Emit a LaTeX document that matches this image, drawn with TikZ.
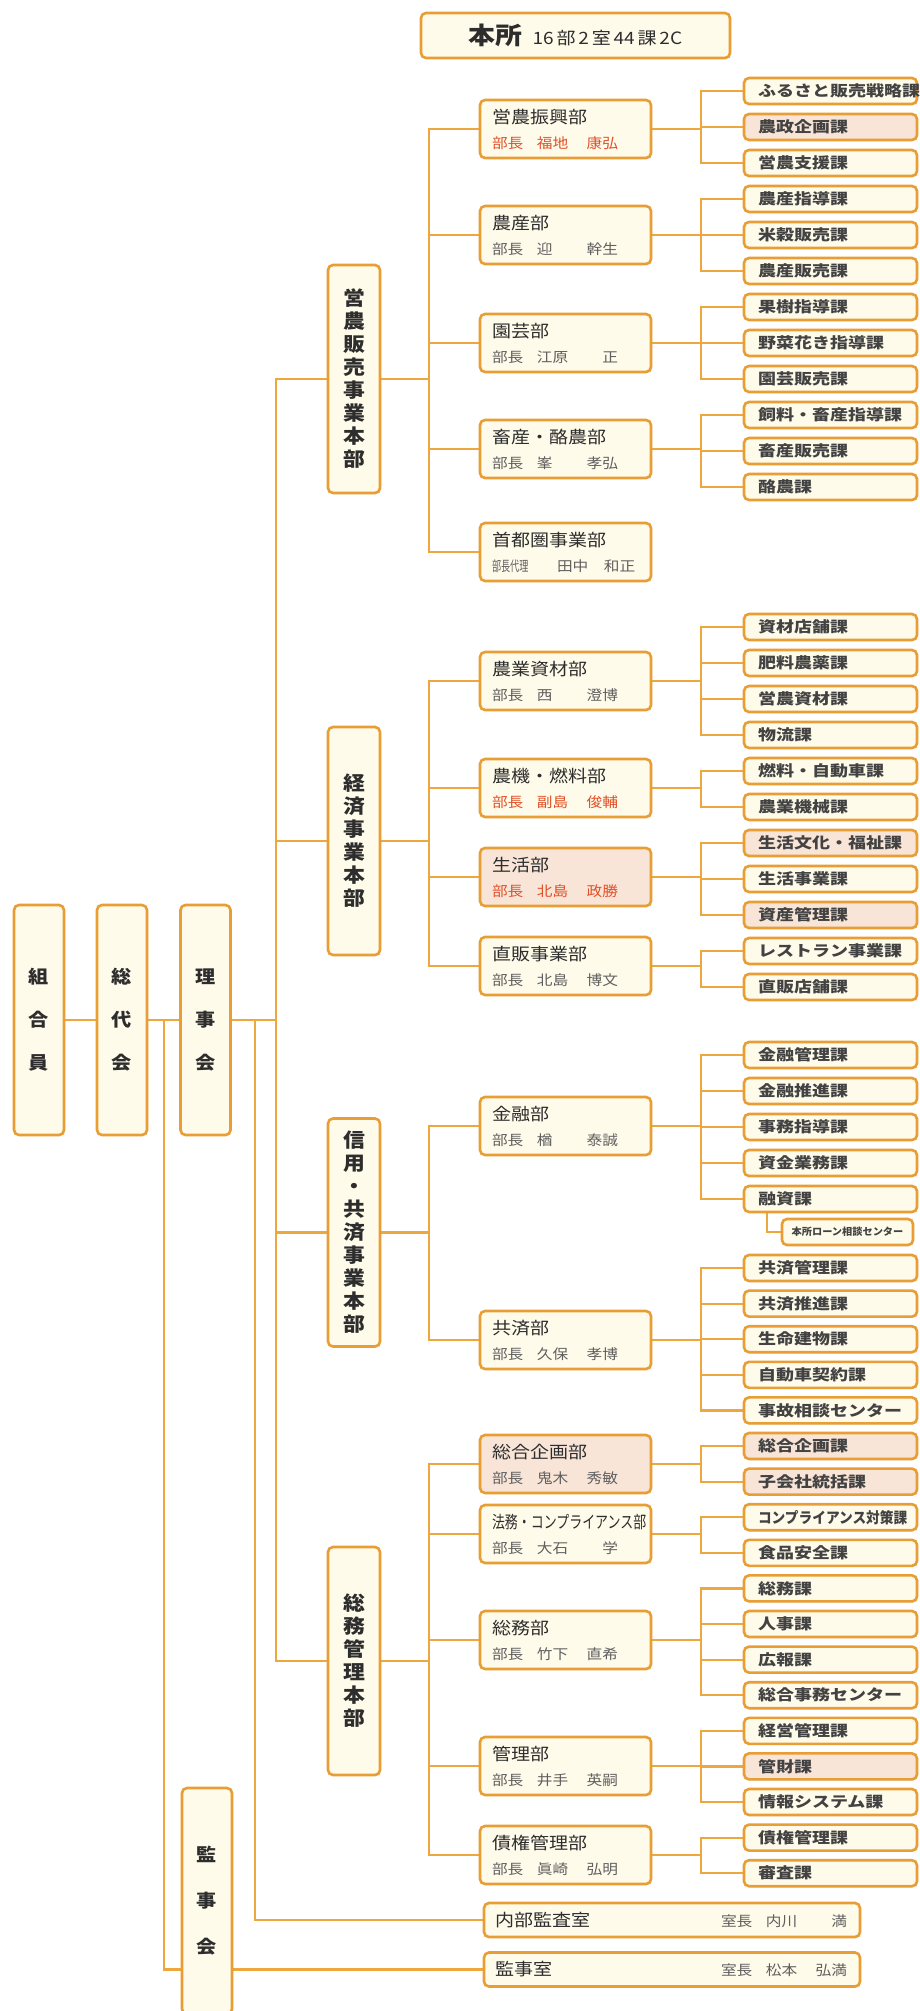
\documentclass[tikz,border=0pt]{standalone}
\usepackage{fontspec}
\usepackage{graphicx}
\setmainfont{Noto Sans CJK JP}[FakeStretch=1.12]
\newfontfamily\kafont{Noto Sans CJK JP}[FakeStretch=1.2]
\usetikzlibrary{backgrounds,shadows}

\definecolor{lineor}{RGB}{238,166,62}
\definecolor{boxor}{RGB}{232,158,52}
\definecolor{boxfill}{RGB}{255,251,234}
\definecolor{pinkfill}{RGB}{248,229,215}
\definecolor{namered}{RGB}{224,80,40}
\definecolor{namegray}{RGB}{95,95,95}
\definecolor{ink}{RGB}{45,45,45}

\newcommand\nm[3]{\makebox[45pt][l]{#1}\makebox[45pt][l]{#2}\makebox[36pt][r]{#3}}
\newcommand\gn[3]{\textcolor{namegray}{\nm{#1}{#2}{#3}}}
\newcommand\rn[3]{\textcolor{namered}{\nm{#1}{#2}{#3}}}
\newcommand\bt[1]{{\fontsize{17}{25}\selectfont #1}}
\newcommand\sq[2]{\scalebox{#1}[1]{#2}}

\tikzset{
  conn/.style={draw=lineor, line width=2.2pt},
  obox/.style={draw=boxor, line width=2.6pt, fill=boxfill, rounded corners=5pt, inner sep=0pt,
    drop shadow={shadow xshift=1.2pt, shadow yshift=-1.2pt, opacity=0.18}},
  tate/.style={obox, minimum width=50pt, minimum height=230pt, align=center, text=ink,
    font=\fontsize{18}{43}\selectfont\bfseries},
  honbu/.style={obox, minimum width=52pt, minimum height=228pt, align=center, text=ink,
    font=\fontsize{19.5}{23}\selectfont\bfseries},
  bu/.style={obox, minimum width=171pt, minimum height=58pt, text width=147pt, align=left,
    text=ink, font=\fontsize{14}{25}\selectfont},
  ka/.style={obox, minimum width=173pt, minimum height=26pt, text width=145pt, align=left,
    text=ink!90, font=\kafont\fontsize{15}{15}\selectfont\bfseries},
  shitsu/.style={obox, minimum width=376pt, minimum height=34pt, text width=354pt, align=left,
    text=ink, font=\fontsize{14}{14}\selectfont}
}

\begin{document}
\begin{tikzpicture}[x=1pt,y=-1pt]
\useasboundingbox (0,0) rectangle (920,2011);

% top level
\node[tate] (kumiai) at (39,1020) {組\\合\\員};
\node[tate] (sodai) at (122,1020) {総\\代\\会};
\node[tate] (riji) at (205.5,1020) {理\\事\\会};
\node[tate, minimum height=226pt, font=\fontsize{18}{46}\selectfont\bfseries] (kanjikai) at (207,1901) {監\\事\\会};

\node[obox, minimum width=309pt, minimum height=45pt, text=ink] (honsho) at (575.5,35.5)
  {{\fontsize{24}{24}\selectfont\bfseries 本所}\hspace{10pt}{\fontsize{17}{17}\selectfont 16\,部\,2\,室\,44\,課\,2C}};

% honbu
\node[honbu] (h1) at (354,379) {営\\農\\販\\売\\事\\業\\本\\部};
\node[honbu] (h2) at (354,841) {経\\済\\事\\業\\本\\部};
\node[honbu] (h3) at (354,1232.5) {信\\用\\・\\共\\済\\事\\業\\本\\部};
\node[honbu] (h4) at (354,1661) {総\\務\\管\\理\\本\\部};

% bu
\node[bu] (d1) at (565.5,129) {\bt{営農振興部}\\\rn{部長}{福地}{康弘}};
\node[bu] (d2) at (565.5,235) {\bt{農産部}\\\gn{部長}{迎}{幹生}};
\node[bu] (d3) at (565.5,343) {\bt{園芸部}\\\gn{部長}{江原}{正}};
\node[bu] (d4) at (565.5,449) {\bt{畜産・酪農部}\\\gn{部長}{峯}{孝弘}};
\node[bu] (d5) at (565.5,552) {\bt{首都圏事業部}\\\textcolor{namegray}{\makebox[65pt][l]{\sq{0.58}{部長代理}}\makebox[47pt][l]{田中}和正}};
\node[bu] (d6) at (565.5,681) {\bt{農業資材部}\\\gn{部長}{西}{澄博}};
\node[bu] (d7) at (565.5,788) {\bt{農機・燃料部}\\\rn{部長}{副島}{俊輔}};
\node[bu, fill=pinkfill] (d8) at (565.5,877) {\bt{生活部}\\\rn{部長}{北島}{政勝}};
\node[bu] (d9) at (565.5,966) {\bt{直販事業部}\\\gn{部長}{北島}{博文}};
\node[bu] (d10) at (565.5,1126) {\bt{金融部}\\\gn{部長}{楢}{泰誠}};
\node[bu] (d11) at (565.5,1340) {\bt{共済部}\\\gn{部長}{久保}{孝博}};
\node[bu, fill=pinkfill] (d12) at (565.5,1464) {\bt{総合企画部}\\\gn{部長}{鬼木}{秀敏}};
\node[bu] (d13) at (565.5,1534) {\bt{\sq{0.68}{法務・コンプライアンス部}}\\\gn{部長}{大石}{学}};
\node[bu] (d14) at (565.5,1640) {\bt{総務部}\\\gn{部長}{竹下}{直希}};
\node[bu] (d15) at (565.5,1766) {\bt{管理部}\\\gn{部長}{井手}{英嗣}};
\node[bu] (d16) at (565.5,1855) {\bt{債権管理部}\\\gn{部長}{眞崎}{弘明}};

% ka
\foreach \t/\f [count=\i from 0] in {ふるさと販売戦略課/boxfill, 農政企画課/pinkfill, 営農支援課/boxfill,
  農産指導課/boxfill, 米穀販売課/boxfill, 農産販売課/boxfill, 果樹指導課/boxfill, 野菜花き指導課/boxfill,
  園芸販売課/boxfill, 飼料・畜産指導課/boxfill, 畜産販売課/boxfill, 酪農課/boxfill}
  \node[ka, fill=\f] (a\i) at (830.5,{91+36*\i}) {\t};
\foreach \t/\f [count=\i from 0] in {資材店舗課/boxfill, 肥料農薬課/boxfill, 営農資材課/boxfill, 物流課/boxfill,
  燃料・自動車課/boxfill, 農業機械課/boxfill, 生活文化・福祉課/pinkfill, 生活事業課/boxfill,
  資産管理課/pinkfill, レストラン事業課/boxfill, 直販店舗課/boxfill}
  \node[ka, fill=\f] (b\i) at (830.5,{627+36*\i}) {\t};
\foreach \t [count=\i from 0] in {金融管理課, 金融推進課, 事務指導課, 資金業務課, 融資課}
  \node[ka] (c\i) at (830.5,{1055+36*\i}) {\t};
\node[ka, minimum width=131pt, text width=, align=center, font=\kafont\fontsize{10}{10}\selectfont\bfseries] (loan) at (847.5,1232) {\sq{0.85}{本所ローン相談センター}};
\foreach \t/\f [count=\i from 0] in {共済管理課/boxfill, 共済推進課/boxfill, 生命建物課/boxfill, 自動車契約課/boxfill,
  事故相談センター/boxfill, 総合企画課/pinkfill, 子会社統括課/pinkfill, {\sq{0.76}{コンプライアンス対策課}}/boxfill,
  食品安全課/boxfill, 総務課/boxfill, 人事課/boxfill, 広報課/boxfill, 総合事務センター/boxfill,
  経営管理課/boxfill, 管財課/pinkfill, 情報システム課/boxfill, 債権管理課/boxfill, 審査課/boxfill}
  \node[ka, fill=\f] (e\i) at (830.5,{1268+35.6*\i}) {\t};

% shitsu
\node[shitsu] (naibu) at (672,1920) {\makebox[226pt][l]{\fontsize{17}{17}\selectfont 内部監査室}\gn{室長}{内川}{満}};
\node[shitsu] (kanjishitsu) at (672,1969.5) {\makebox[226pt][l]{\fontsize{17}{17}\selectfont 監事室}\gn{室長}{松本}{弘満}};

% connectors
\begin{scope}[on background layer]
\fill[white] (0,0) rectangle (920,2011);
\draw[conn] (kumiai) -- (sodai);
\draw[conn] (sodai) -- (riji);
\draw[conn] (riji.east) -- ++(44,0) coordinate (tk);
\foreach \h in {h1,h2,h3,h4} \draw[conn] (\h.west) -| (tk);
\coordinate (j1) at (164,1020);
\coordinate (j2) at (255,1020);
\draw[conn] (j1) |- (kanjishitsu.west);
\draw[conn] (j2) |- (naibu.west);
\foreach \h/\d in {h1/d1,h1/d2,h1/d3,h1/d4,h1/d5,h2/d6,h2/d7,h2/d8,h2/d9,h3/d10,h3/d11,
  h4/d12,h4/d13,h4/d14,h4/d15,h4/d16}
  \draw[conn] (\h.east) -- ++(48,0) |- (\d.west);
\foreach \d/\k in {d1/a0,d1/a1,d1/a2,d2/a3,d2/a4,d2/a5,d3/a6,d3/a7,d3/a8,d4/a9,d4/a10,d4/a11,
  d6/b0,d6/b1,d6/b2,d6/b3,d7/b4,d7/b5,d8/b6,d8/b7,d8/b8,d9/b9,d9/b10,
  d10/c0,d10/c1,d10/c2,d10/c3,d10/c4,
  d11/e0,d11/e1,d11/e2,d11/e3,d11/e4,d12/e5,d12/e6,d13/e7,d13/e8,
  d14/e9,d14/e10,d14/e11,d14/e12,d15/e13,d15/e14,d15/e15,d16/e16,d16/e17}
  \draw[conn] (\d.east) -- ++(49,0) |- (\k.west);
\draw[conn] ([xshift=24pt]c4.south west) |- (loan.west);
\end{scope}
\end{tikzpicture}
\end{document}
